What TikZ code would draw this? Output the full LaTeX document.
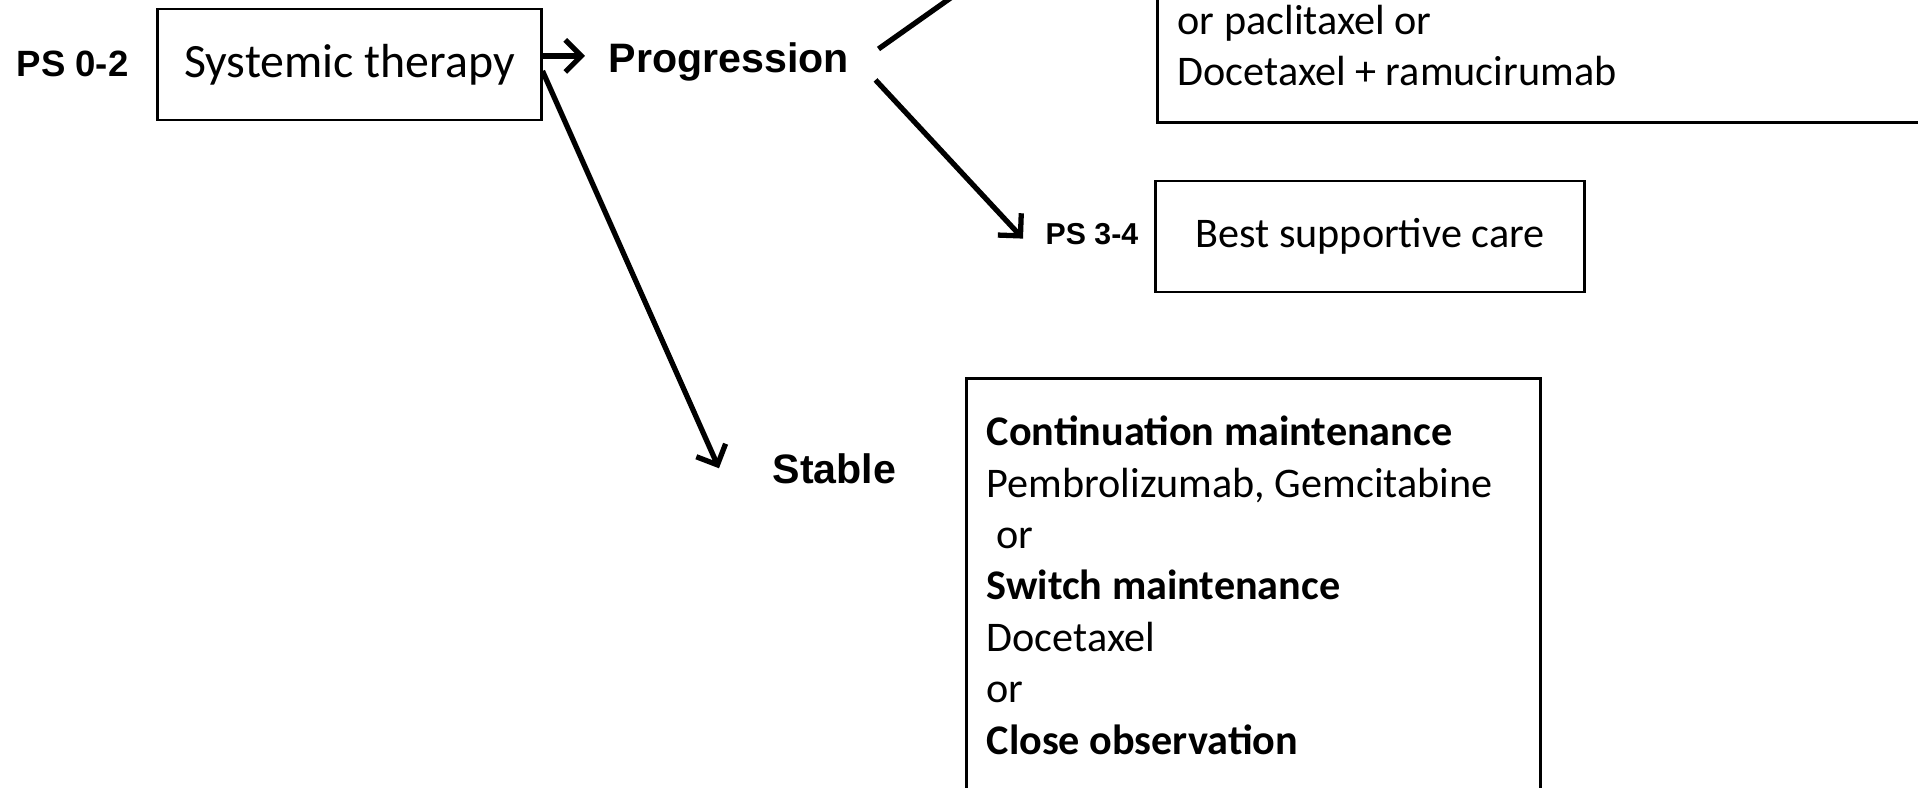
\documentclass[tikz,border=0pt]{standalone}
\usepackage{fontspec}
\setmainfont{Carlito}
\newfontfamily\labelfont{Liberation Sans}
\usetikzlibrary{arrows.meta}

\begin{document}
\begin{tikzpicture}[x=0.01cm, y=-0.01cm,
		box/.style={draw, line width=0.8pt, inner sep=0pt},
		plain/.style={inner sep=0pt, align=left, font=\fontsize{12}{14.6}\selectfont},
		tag/.style={inner sep=0pt, font=\labelfont\bfseries\fontsize{11.7}{14}\selectfont},
		smalltag/.style={tag, font=\labelfont\bfseries\fontsize{10.4}{12}\selectfont},
		arr/.style={line width=1.5pt, -{Straight Barb[length=1.6mm,width=3.2mm]}}]
			\useasboundingbox (0, 0) rectangle (1918, 788);
			\clip (0, 0) rectangle (1918, 788);
			% left hand
			\node[smalltag, anchor=base west] (ps02) at (16, 77) {PS 0-2};
			\node[box, minimum width=3.83cm, minimum height=1.11cm,
				font=\fontsize{13.6}{16}\selectfont] (sys) at (349.5, 64.5) {Systemic therapy};
			\node[tag, anchor=base west] (prog) at (608, 73) {Progression};
			\node[tag, anchor=base west] (stable) at (772, 483) {Stable};
			% right hand
			\node[box, anchor=south west, minimum width=9cm, minimum height=3cm] (topbox) at (1156, 124) {};
			\node[plain, anchor=base west] (toptext) at (1177, 86)
				{or paclitaxel or\\Docetaxel + ramucirumab};
			\node[smalltag, font=\labelfont\bfseries\fontsize{8.6}{10}\selectfont,
				anchor=base west] (ps34) at (1045, 245) {PS 3-4};
			\node[box, minimum width=4.28cm, minimum height=1.11cm,
				font=\fontsize{12}{14.6}\selectfont] (bsc) at (1370, 236.5) {Best supportive care};
			\node[box, anchor=north west, minimum width=5.74cm, minimum height=5cm] (stablebox) at (965, 377) {};
			\node[plain, anchor=base west] (stabletext) at (986, 754)
				{\textbf{Continuation maintenance}\\
				Pembrolizumab, Gemcitabine\\
				\ or\\
				\textbf{Switch maintenance}\\
				Docetaxel\\
				or\\
				\textbf{Close observation}};
			\coordinate (onward) at (1034, -61);
			% arrows
			\draw[arr, shorten >=2.3mm] ([yshift=0.85mm]sys.east) -- ([yshift=0.85mm]sys.east -| prog.west);
			\draw[arr] ([yshift=-0.65mm]sys.east) -- ([xshift=-5.3mm]stable.west);
			\draw[arr] ([xshift=2.6mm, yshift=-1.75mm]prog.east) -- ([xshift=-2.2mm, yshift=-0.4mm]ps34.west);
			\draw[arr] ([xshift=2.9mm, yshift=1.35mm]prog.east) -- (onward);
		\end{tikzpicture}
\end{document}
